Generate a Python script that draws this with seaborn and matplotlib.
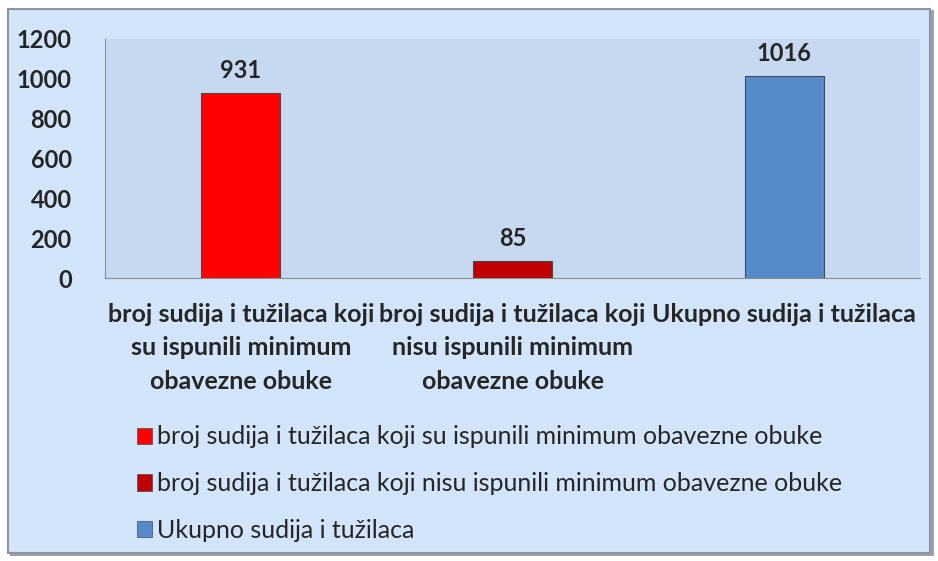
import matplotlib
matplotlib.use("Agg")
import matplotlib.pyplot as plt
from matplotlib.patches import Rectangle, Patch
import seaborn as sns

# data
categories = ["broj sudija i tužilaca koji su ispunili minimum obavezne obuke",
              "broj sudija i tužilaca koji nisu ispunili minimum obavezne obuke",
              "Ukupno sudija i tužilaca"]
tick_labels = ["broj sudija i tužilaca koji\nsu ispunili minimum\nobavezne obuke",
               "broj sudija i tužilaca koji\nnisu ispunili minimum\nobavezne obuke",
               "Ukupno sudija i tužilaca"]
values = [931, 85, 1016]
colors = ["#FF0000", "#C00000", "#558ACB"]
y_ticks = [0, 200, 400, 600, 800, 1000, 1200]

sns.set_style("white")
plt.rcParams["font.family"] = ["Lato", "DejaVu Sans"]

fig = plt.figure(figsize=(9.38, 5.61), dpi=100)
fig.patch.set_facecolor("white")
# outer chart frame with a bit of shadow
fig.patches.append(Rectangle((10 / 938, 5 / 561), 924 / 938, 546 / 561, transform=fig.transFigure,
                             facecolor="#9AA2AE", edgecolor="none", zorder=-3))
fig.patches.append(Rectangle((8 / 938, 8 / 561), 922 / 938, 544 / 561, transform=fig.transFigure,
                             facecolor="#D3E5FA", edgecolor="#8C949E", linewidth=1.5, zorder=-2))

ax = fig.add_axes([105 / 938, 1 - 278 / 561, 815 / 938, 239 / 561])
ax.set_facecolor("#C6D9F0")
sns.barplot(x=categories, y=values, hue=categories, palette=colors, width=0.29, saturation=1,
            edgecolor="#4A4A4A", linewidth=0.8, legend=False, ax=ax)

for i, v in enumerate(values):
    ax.text(i, v + 55, str(v), ha="center", va="bottom", fontsize=17, fontweight="bold")

ax.set_ylim(0, 1200)
ax.set_yticks(y_ticks)
ax.set_yticklabels([str(t) for t in y_ticks], fontsize=17, fontweight="bold")
ax.set_xticks(range(len(categories)))
ax.set_xticklabels(tick_labels, fontsize=18, fontweight="bold", linespacing=1.55)
ax.tick_params(axis="x", length=0, pad=18)
ax.tick_params(axis="y", length=0, pad=24)
for s in ["top", "right"]:
    ax.spines[s].set_visible(False)
ax.spines["left"].set_color("#8C8C8C")
ax.spines["bottom"].set_color("#8C8C8C")
ax.set_xlabel("")
ax.set_ylabel("")

handles = [Patch(facecolor=c, edgecolor="#4A4A4A", linewidth=0.5) for c in colors]
fig.legend(handles, categories, loc="upper left", bbox_to_anchor=(124 / 938, 1 - 413 / 561),
           frameon=False, fontsize=18, handlelength=0.62, handleheight=0.62,
           handletextpad=0.2, labelspacing=0.95, borderpad=0)

fig.savefig("out.png", dpi=100, facecolor=fig.get_facecolor())
